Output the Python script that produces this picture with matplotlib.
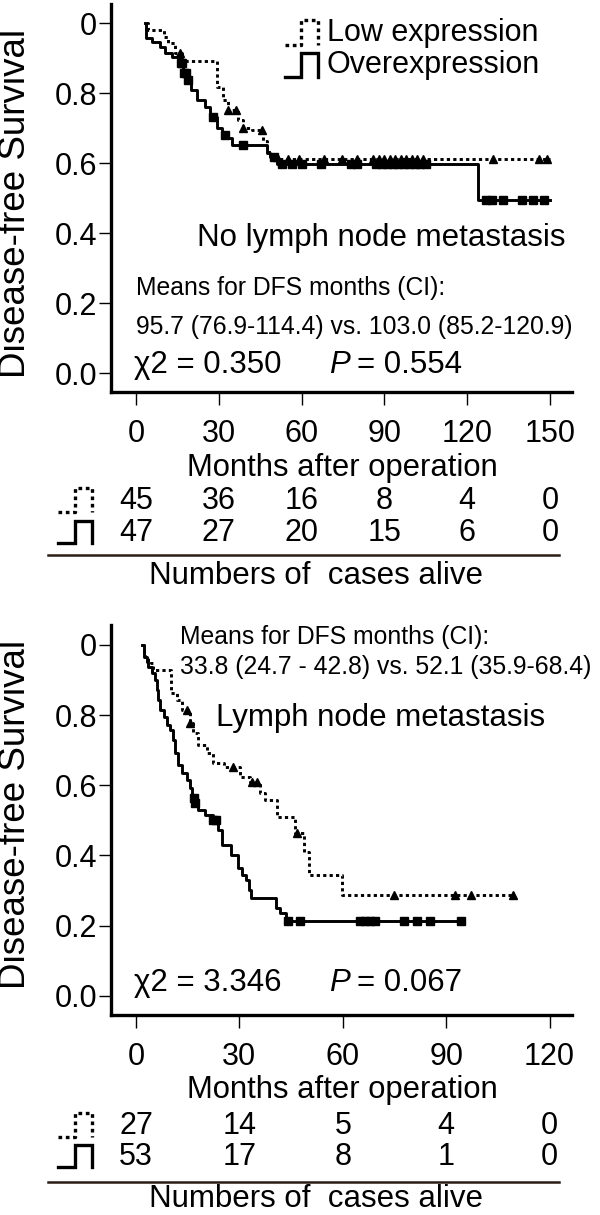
import numpy as np
import matplotlib
matplotlib.use("Agg")
import matplotlib.pyplot as plt
from matplotlib.lines import Line2D
from matplotlib.transforms import blended_transform_factory

plt.rcParams['font.family'] = ['Liberation Sans', 'DejaVu Sans']

W, H = 600, 1215

# ---- panel 1: no lymph node metastasis (step times / survival) ----
top_low_t = [3.5, 4.2, 10.0, 11.6, 14.1, 16.5, 29.5, 31.6, 33.4, 37.0, 38.9, 41.9,
             46.1, 47.5, 49.5, 51.5, 150.0]
top_low_s = [1.0, 0.980, 0.962, 0.944, 0.915, 0.893, 0.819, 0.780, 0.752, 0.724, 0.700,
             0.695, 0.665, 0.632, 0.619, 0.611, 0.611]
top_low_cens = [16.0, 33.4, 36.4, 38.9, 45.5, 51, 55, 59, 68, 74.5, 80, 86, 88, 90, 92,
                94, 96, 98, 100, 102, 104, 129.5, 146, 149]

top_over_t = [3.4, 3.6, 5.7, 8.7, 10.5, 12.9, 15.9, 17.1, 18.7, 20.1, 22.0, 25.0, 26.8,
              29.2, 31.0, 32.8, 34.7, 47.6, 48.6, 51.0, 124.0, 150.0]
top_over_s = [1.0, 0.957, 0.947, 0.933, 0.914, 0.905, 0.886, 0.858, 0.838, 0.809, 0.781,
              0.762, 0.733, 0.700, 0.681, 0.671, 0.652, 0.629, 0.619, 0.598, 0.495, 0.495]
top_over_cens = [16.2, 16.8, 17.5, 18.2, 19.0, 28.0, 32.3, 38.9, 50, 53, 56.5, 60, 67,
                 78, 80, 87, 89, 91, 93, 95, 97, 99, 101, 103, 105, 127, 129, 133, 140,
                 144, 148]

top_ticks = [0, 30, 60, 90, 120, 150]
top_risk_low = [45, 36, 16, 8, 4, 0]
top_risk_over = [47, 27, 20, 15, 6, 0]

# ---- panel 2: lymph node metastasis ----
bot_low_t = [1.8, 2.2, 2.6, 3.6, 4.5, 5.0, 10.3, 11.8, 13.3, 15.7, 16.6, 18.1, 20.5,
             22.4, 25.5, 30.2, 33.1, 36.0, 37.4, 41.0, 46.0, 48.8, 50.2, 59.7, 109.3]
bot_low_s = [1.0, 0.976, 0.967, 0.957, 0.948, 0.929, 0.862, 0.843, 0.815, 0.777, 0.748,
             0.715, 0.691, 0.663, 0.653, 0.624, 0.610, 0.577, 0.558, 0.510, 0.463,
             0.410, 0.344, 0.287, 0.287]
bot_low_cens = [14.7, 15.7, 28.2, 33.6, 35.0, 46.8, 75.0, 92.6, 97.3, 109.3]

bot_over_t = [1.8, 2.2, 3.1, 3.6, 4.6, 5.5, 6.0, 6.5, 7.0, 8.0, 8.9, 9.9, 10.8, 11.3,
              12.3, 13.3, 14.7, 15.7, 16.2, 17.2, 18.1, 20.0, 22.4, 23.9, 24.9, 27.7,
              29.5, 30.7, 32.0, 32.8, 33.3, 40.5, 41.8, 43.4, 94.3]
bot_over_s = [1.0, 0.967, 0.952, 0.938, 0.919, 0.900, 0.872, 0.843, 0.815, 0.796, 0.772,
              0.758, 0.729, 0.691, 0.658, 0.634, 0.615, 0.591, 0.563, 0.549, 0.530,
              0.515, 0.501, 0.472, 0.430, 0.400, 0.365, 0.344, 0.330, 0.300, 0.278,
              0.249, 0.235, 0.213, 0.213]
bot_over_cens = [16.7, 17.2, 22.4, 23.3, 44.0, 47.5, 65.0, 66.5, 68.0, 69.3, 77.7, 81.6,
                 85.4, 94.3]

bot_ticks = [0, 30, 60, 90, 120]
bot_risk_low = [27, 14, 5, 4, 0]
bot_risk_over = [53, 17, 8, 1, 0]

y_ticks = [0.0, 0.2, 0.4, 0.6, 0.8, 1.0]
y_ticklabels = ['0.0', '0.2', '0.4', '0.6', '0.8', '0']

DOT = (0, (1.1, 1.1))


def fx(px):
    return px / W


def fy(py):
    return 1 - py / H


def step_at(t, s, c):
    idx = np.searchsorted(t, c, side='right') - 1
    return np.asarray(s)[idx]


def icon(fig, x0, y0, x1, y1, dotted):
    # small "_|‾|" step glyph used as legend key
    xm = (x0 + x1) / 2
    xs = [x0, xm, xm, x1, x1]
    ys = [y1, y1, y0, y0, y1]
    fig.add_artist(Line2D([fx(v) for v in xs], [fy(v) for v in ys], color='black',
                          lw=2.4, ls=DOT if dotted else '-', solid_joinstyle='miter',
                          transform=fig.transFigure))


fig = plt.figure(figsize=(6, 12.15), dpi=100)


def panel(top_px, bot_px, xlim, low, over, ticks):
    ax = fig.add_axes([fx(111), fy(bot_px), fx(572) - fx(111), fy(top_px) - fy(bot_px)])
    lt, ls_, lc = low
    ot, os_, oc = over
    ax.step(lt, ls_, where='post', color='black', lw=2.1, ls=DOT)
    ax.plot(lc, step_at(lt, ls_, lc), ls='none', marker='^', ms=6, color='black')
    ax.step(ot, os_, where='post', color='black', lw=2.1)
    ax.plot(oc, step_at(ot, os_, oc), ls='none', marker='s', ms=6, color='black')
    ax.set_xlim(*xlim)
    ax.set_xticks(ticks)
    ax.set_yticks(y_ticks)
    ax.set_yticklabels(y_ticklabels)
    for sp in ['top', 'right']:
        ax.spines[sp].set_visible(False)
    for sp in ['left', 'bottom']:
        ax.spines[sp].set_linewidth(2.4)
    ax.tick_params(axis='x', direction='out', length=9.5, width=1, pad=10, labelsize=22)
    ax.tick_params(axis='y', direction='out', length=9, width=1, pad=1, labelsize=22)
    return ax


ax1 = panel(4, 392, (-9.06, 158),
            (top_low_t, top_low_s, top_low_cens),
            (top_over_t, top_over_s, top_over_cens), top_ticks)
ax1.set_ylim(-0.053, 1.055)

ax2 = panel(625, 1015, (-7.25, 126.5),
            (bot_low_t, bot_low_s, bot_low_cens),
            (bot_over_t, bot_over_s, bot_over_cens), bot_ticks)
ax2.set_ylim(-0.055, 1.057)


def T(x, y, s, size, **kw):
    kw.setdefault('ha', 'left')
    fig.text(fx(x), fy(y), s, fontsize=size, va='center', **kw)


# y labels
T(16, 203, 'Disease-free Survival', 26.5, rotation=90, ha='center')
T(16, 814, 'Disease-free Survival', 26.5, rotation=90, ha='center')

# legend
icon(fig, 285, 20, 318, 45, True)
icon(fig, 285, 53, 318, 77, False)
T(327, 33, 'Low expression', 22)
T(327, 65, 'Overexpression', 22)

# top annotations
T(197, 238, 'No lymph node metastasis', 22.5)
T(136, 288, 'Means for DFS months (CI):', 17.8)
T(136, 327, '95.7 (76.9-114.4) vs. 103.0 (85.2-120.9)', 17.8)
T(134, 365, 'χ2 = 0.350', 22.5)
T(329, 365, 'P', 22.5, style='italic')
T(357, 365, '= 0.554', 22.5)

# bottom annotations
T(180, 637, 'Means for DFS months (CI):', 17.8)
T(180, 667, '33.8 (24.7 - 42.8) vs. 52.1 (35.9-68.4)', 17.8)
T(216, 718, 'Lymph node metastasis', 22.5)
T(134, 983, 'χ2 = 3.346', 22.5)
T(329, 983, 'P', 22.5, style='italic')
T(357, 983, '= 0.067', 22.5)


def risk_table(ax, ticks, low, over, xlab_y, r1, r2, line_y, foot_y):
    T(342, xlab_y, 'Months after operation', 22.3, ha='center')
    tr = blended_transform_factory(ax.transData, fig.transFigure)
    for x, a, b in zip(ticks, low, over):
        ax.text(x, fy(r1), str(a), transform=tr, ha='center', va='center', fontsize=22,
                clip_on=False)
        ax.text(x, fy(r2), str(b), transform=tr, ha='center', va='center', fontsize=22,
                clip_on=False)
    icon(fig, 58, r1 - 13, 92, r1 + 11, True)
    icon(fig, 58, r2 - 12, 92, r2 + 10, False)
    fig.add_artist(Line2D([fx(48), fx(559)], [fy(line_y), fy(line_y)], color='#2b1d14',
                          lw=1.8, transform=fig.transFigure))
    T(316, foot_y, 'Numbers of  cases alive', 22.5, ha='center')


risk_table(ax1, top_ticks, top_risk_low, top_risk_over, 468, 501, 533, 555, 576)
risk_table(ax2, bot_ticks, bot_risk_low, bot_risk_over, 1090, 1126, 1157, 1182, 1199)

fig.savefig('out.png', dpi=100)
